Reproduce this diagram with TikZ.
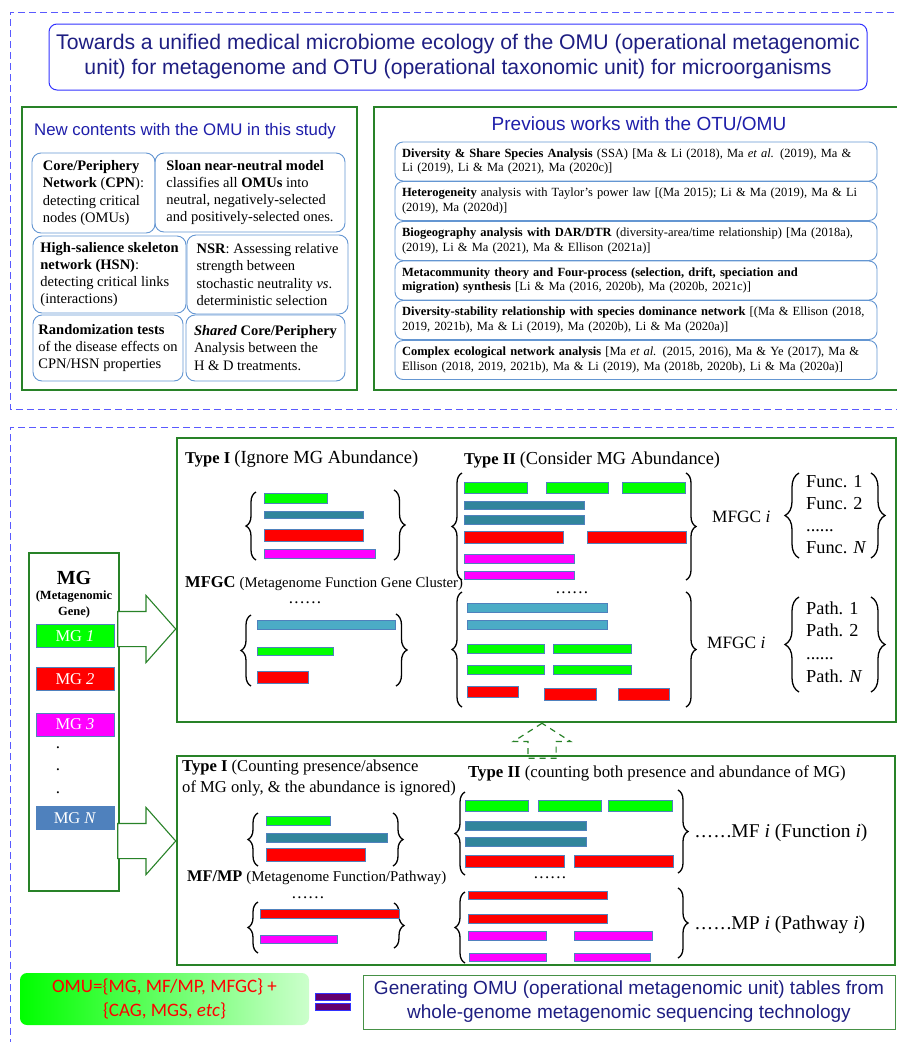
\documentclass[tikz,border=0pt]{standalone}
\usepackage{fontspec}
\setmainfont{Liberation Serif}
\setsansfont{Liberation Sans}
\newfontfamily\omufont{Carlito}
\usetikzlibrary{positioning,shapes.arrows,decorations.pathreplacing}

\definecolor{framegreen}{RGB}{40,130,40}
\definecolor{dashblue}{RGB}{90,90,255}
\definecolor{titlenavy}{RGB}{30,30,130}
\definecolor{headblue}{RGB}{30,30,170}
\definecolor{titleframe}{RGB}{50,50,255}
\definecolor{cellblue}{RGB}{100,150,210}
\definecolor{mggreen}{RGB}{0,255,0}
\definecolor{mgteal}{RGB}{49,133,156}
\definecolor{mgred}{RGB}{255,0,0}
\definecolor{mgpink}{RGB}{255,0,255}
\definecolor{mgcyan}{RGB}{75,172,198}
\definecolor{mgsteel}{RGB}{79,129,189}
\definecolor{barline}{RGB}{79,129,189}
\definecolor{eqpurple}{RGB}{100,0,110}
\definecolor{genframe}{RGB}{70,145,70}

\newcommand\fsz[2]{\fontsize{#1}{#2}\selectfont}
\newcommand\dotrow{.\kern1.4pt.\kern1.4pt.\kern1.4pt.\kern1.4pt.\kern1.4pt.}

\tikzset{
  dashline/.style={draw=dashblue,line width=1pt,dash pattern=on 7pt off 4pt},
  frame/.style={draw=framegreen,line width=1.1pt,inner sep=0pt},
  titlebox/.style={draw=titleframe,line width=1pt,rounded corners=8pt,align=center,
    minimum width=818pt,minimum height=66pt,text=titlenavy,font=\sffamily\fsz{21.2}{25}},
  cell/.style={draw=cellblue,line width=0.9pt,rounded corners=9pt,align=left,inner sep=0pt,
    font=\fsz{14.5}{17.3}},
  refcell/.style={draw=cellblue,line width=0.9pt,rounded corners=8pt,align=left,inner sep=0pt,
    text width=468pt,minimum width=482pt,minimum height=39pt,font=\fsz{12.5}{14.5}},
  bar/.style={draw=barline,line width=0.5pt},
  curly/.style={decorate,decoration={brace,amplitude=#1},line width=1.3pt},
  curly/.default=10pt,
  bigarrow/.style={single arrow,draw=framegreen,fill=white,line width=1.1pt,inner xsep=0pt,
    inner ysep=17pt,single arrow head extend=16pt,single arrow tip angle=97,minimum height=58pt},
  dasharrow/.style={single arrow,draw=framegreen,line width=1.2pt,dash pattern=on 6pt off 5pt,
    inner xsep=0pt,inner ysep=13.5pt,single arrow head extend=14.5pt,single arrow tip angle=115,
    minimum height=35pt},
  mgitem/.style={draw=barline,line width=0.5pt,minimum width=78pt,minimum height=23pt,
    inner sep=0pt,text=white,font=\fsz{16.5}{18}},
  lbl/.style={anchor=west,inner sep=0pt},
  dots/.style={inner sep=0pt,font=\fsz{17}{20}},
}

\begin{document}
\begin{tikzpicture}[x=1pt,y=-1pt]
\useasboundingbox (0,0) rectangle (897,1042);

\draw[dashline] (905,12) -| (10,409) -- (905,409);
\draw[dashline] (905,427) -| (10,1050);

\node[titlebox] (title) at (458,57)
  {Towards a unified medical microbiome ecology of the OMU (operational metagenomic\\
   unit) for metagenome and OTU (operational taxonomic unit) for microorganisms};

\node[frame,minimum width=335pt,minimum height=283pt] (newbox) at (189.5,248.5) {};
\node[text=headblue,font=\sffamily\fsz{16.8}{20}] (newhead) at (185,131)
  {New contents with the OMU in this study};
\node[cell,minimum width=123pt,minimum height=80pt] (cpn) at (93.5,193)
  {\textbf{Core/Periphery}\\\textbf{Network} (\textbf{CPN}):\\detecting critical\\nodes (OMUs)};
\node[cell,minimum width=190pt,minimum height=79pt] (sloan) at (250,192.5)
  {\textbf{Sloan near-neutral model}\\classifies all \textbf{OMUs} into\\neutral, negatively-selected\\and positively-selected ones.};
\node[cell,minimum width=153pt,minimum height=77pt] (hsn) at (109.5,274.5)
  {\textbf{High-salience skeleton}\\\textbf{network (HSN)}:\\detecting critical links\\(interactions)};
\node[cell,minimum width=161pt,minimum height=79pt] (nsr) at (267.5,274.5)
  {\textbf{NSR}: Assessing relative\\strength between\\stochastic neutrality \textit{vs}.\\deterministic selection};
\node[cell,minimum width=150pt,minimum height=66pt] (rand) at (108,348)
  {\textbf{Randomization tests}\\of the disease effects on\\CPN/HSN properties};
\node[cell,minimum width=159pt,minimum height=66pt] (shared) at (265.5,348)
  {\textbf{\textit{Shared} Core/Periphery}\\Analysis between the\\H \& D treatments.};

\node[frame,minimum width=526pt,minimum height=283pt] (prevbox) at (637,248.5) {};
\node[text=headblue,font=\sffamily\fsz{19}{22}] (prevhead) at (639,124)
  {Previous works with the OTU/OMU};
\node[refcell] (ssa) at (636,161.5)
  {\textbf{Diversity \& Share Species Analysis} (SSA) [Ma \& Li (2018), Ma \textit{et al.} (2019), Ma \&\\
   Li (2019), Li \& Ma (2021), Ma (2020c)]};
\node[refcell] (tpl) at (636,201)
  {\textbf{Heterogeneity} analysis with Taylor's power law [(Ma 2015); Li \& Ma (2019), Ma \& Li\\
   (2019), Ma (2020d)]};
\node[refcell] (dar) at (636,241)
  {\textbf{Biogeography analysis with DAR/DTR} (diversity-area/time relationship) [Ma (2018a),\\
   (2019), Li \& Ma (2021), Ma \& Ellison (2021a)]};
\node[refcell] (meta) at (636,280.5)
  {\textbf{Metacommunity theory and Four-process (selection, drift, speciation and}\\
   \textbf{migration) synthesis} [Li \& Ma (2016, 2020b), Ma (2020b, 2021c)]};
\node[refcell] (dsr) at (636,320)
  {\mbox{\textbf{Diversity-stability relationship with species dominance network} [(Ma \& Ellison (2018,}\\
   2019, 2021b), Ma \& Li (2019), Ma (2020b), Li \& Ma (2020a)]};
\node[refcell] (cen) at (636,360)
  {\textbf{Complex ecological network analysis} [Ma \textit{et al.} (2015, 2016), Ma \& Ye (2017), Ma \&\\
   Ellison (2018, 2019, 2021b), Ma \& Li (2019), Ma (2018b, 2020b), Li \& Ma (2020a)]};

\node[frame,minimum width=90pt,minimum height=338pt] (mgbox) at (74,722) {};
\node[font=\fsz{20}{22}\bfseries] (mghead) at (74,578) {MG};
\node[align=center,font=\fsz{12.5}{16}\bfseries] (mgsub) at (74,604) {(Metagenomic\\Gene)};
\node[mgitem,fill=mggreen] (mg1) at (75,636) {MG \textit{1}};
\node[mgitem,fill=mgred] (mg2) at (75,679) {MG \textit{2}};
\node[mgitem,fill=mgpink] (mg3) at (75,724.5) {MG \textit{3}};
\node[dots] (dot1) at (58,748) {.};
\node[dots] (dot2) at (58,770) {.};
\node[dots] (dot3) at (58,793) {.};
\node[mgitem,fill=mgsteel] (mgN) at (75,818) {MG \textit{N}};

\node[frame,minimum width=719pt,minimum height=284pt] (upbox) at (536.5,580) {};
\node[frame,minimum width=718pt,minimum height=209pt] (lowbox) at (536,860.5) {};
\node[bigarrow,anchor=tip] (arrUp) at (upbox.west |- 0,629) {};
\node[bigarrow,anchor=tip] (arrLow) at (lowbox.west |- 0,841) {};
\node[dasharrow,rotate=90,anchor=tip] (arrMid) at (upbox.south -| 542,0) {};

\node[lbl] (typeA) at (185,459)
  {\fsz{16.5}{20}\bfseries Type I \fsz{18.5}{22}\mdseries(Ignore MG Abundance)};
\draw[curly] (256,560) -- (256,492);
\draw[curly=11pt] (394,490) -- (394,560);
\draw[bar,fill=mggreen] (264,493) rectangle (327,503);
\draw[bar,fill=mgteal] (264,511) rectangle (363,518);
\draw[bar,fill=mgred] (264,529) rectangle (363,541);
\draw[bar,fill=mgpink] (264,549) rectangle (375,558);

\node[lbl] (mfgcHead) at (185,584)
  {\fsz{16.5}{20}\bfseries MFGC \fsz{14.7}{18}\mdseries(Metagenome Function Gene Cluster)};
\node[dots] (dotsA) at (305,603) {\dotrow};
\draw[curly] (251,686) -- (251,615);
\draw[curly=11pt] (396,614) -- (396,686);
\draw[bar,fill=mgcyan] (257,620) rectangle (395,629);
\draw[bar,fill=mggreen] (257,647) rectangle (333,655);
\draw[bar,fill=mgred] (257,671) rectangle (308,683);

\node[lbl] (typeB) at (464,460)
  {\fsz{16.5}{20}\bfseries Type II \fsz{18.3}{22}\mdseries(Consider MG Abundance)};
\draw[curly] (462,580) -- (462,473);
\draw[curly] (686,473) -- (686,580);
\draw[bar,fill=mggreen] (464,482) rectangle (527,493);
\draw[bar,fill=mggreen] (546,482) rectangle (608,493);
\draw[bar,fill=mggreen] (622,482) rectangle (685,493);
\draw[bar,fill=mgteal] (464,501) rectangle (584,509);
\draw[bar,fill=mgteal] (464,515) rectangle (584,524);
\draw[bar,fill=mgred] (464,531) rectangle (563,543);
\draw[bar,fill=mgred] (587,531) rectangle (686,543);
\draw[bar,fill=mgpink] (464,554) rectangle (574,563);
\draw[bar,fill=mgpink] (464,571) rectangle (574,579);
\node[lbl,font=\fsz{17.3}{20}] (mfgcA) at (712,517) {MFGC \textit{i}};
\draw[curly=14pt] (799,558) -- (799,473);
\node[lbl,align=left,font=\fsz{18.3}{22}] (funcs) at (806,515)
  {Func. 1\\Func. 2\\......\\Func. \textit{N}};
\draw[curly=14pt] (871,473) -- (871,558);

\node[dots] (dotsB) at (572,593) {\dotrow};
\draw[curly] (462,707) -- (462,592);
\draw[curly] (686,592) -- (686,707);
\draw[bar,fill=mgcyan] (467,603) rectangle (607,612);
\draw[bar,fill=mgcyan] (467,620) rectangle (607,629);
\draw[bar,fill=mggreen] (467,644) rectangle (544,653);
\draw[bar,fill=mggreen] (553,644) rectangle (631,653);
\draw[bar,fill=mggreen] (467,665) rectangle (544,674);
\draw[bar,fill=mggreen] (553,665) rectangle (631,674);
\draw[bar,fill=mgred] (467,686) rectangle (518,697);
\draw[bar,fill=mgred] (544,688) rectangle (596,700);
\draw[bar,fill=mgred] (618,688) rectangle (669,700);
\node[lbl,font=\fsz{17.3}{20}] (mfgcB) at (707,643) {MFGC \textit{i}};
\draw[curly=14pt] (799,692) -- (799,597);
\node[lbl,align=left,font=\fsz{18.3}{22.7}] (paths) at (806,642)
  {Path. 1\\Path. 2\\......\\Path. \textit{N}};
\draw[curly=14pt] (871,597) -- (871,692);

\node[lbl,align=left,font=\fsz{16.6}{21}] (typeC) at (182,778)
  {\textbf{Type I} (Counting presence/absence\\of MG only, \& the abundance is ignored)};
\draw[curly] (258,866) -- (258,813);
\draw[curly] (393,813) -- (393,866);
\draw[bar,fill=mggreen] (266,816) rectangle (330,825);
\draw[bar,fill=mgteal] (266,833) rectangle (387,842);
\draw[bar,fill=mgred] (266,848) rectangle (365,861);

\node[lbl] (mfmpHead) at (187,878)
  {\fsz{16.3}{20}\bfseries MF/MP \fsz{14.9}{18}\mdseries(Metagenome Function/Pathway)};
\node[dots] (dotsC) at (308,898) {\dotrow};
\draw[curly] (258,953) -- (258,902);
\draw[curly] (394,903) -- (394,948);
\draw[bar,fill=mgred] (260,909) rectangle (399,918);
\draw[bar,fill=mgpink] (260,935) rectangle (337,943);

\node[lbl,font=\fsz{16.8}{20}] (typeD) at (468,773)
  {\textbf{Type II} (counting both presence and abundance of MG)};
\draw[curly] (465,875) -- (465,792);
\draw[curly] (678,790) -- (678,873);
\draw[bar,fill=mggreen] (465,800) rectangle (528,811);
\draw[bar,fill=mggreen] (538,800) rectangle (601,811);
\draw[bar,fill=mggreen] (608,800) rectangle (672,811);
\draw[bar,fill=mgteal] (465,821) rectangle (586,830);
\draw[bar,fill=mgteal] (465,837) rectangle (586,846);
\draw[bar,fill=mgred] (465,855) rectangle (564,867);
\draw[bar,fill=mgred] (574,855) rectangle (673,867);
\node[lbl,font=\fsz{19.5}{22}] (mfi) at (695,833) {\dotrow MF \textit{i} (Function \textit{i})};

\node[dots] (dotsD) at (550,878) {\dotrow};
\draw[curly] (465,963) -- (465,892);
\draw[curly] (678,888) -- (678,958);
\draw[bar,fill=mgred] (468,891) rectangle (607,899);
\draw[bar,fill=mgred] (468,914) rectangle (607,923);
\draw[bar,fill=mgpink] (468,931) rectangle (546,940);
\draw[bar,fill=mgpink] (574,931) rectangle (652,940);
\draw[bar,fill=mgpink] (469,953) rectangle (546,961);
\draw[bar,fill=mgpink] (574,953) rectangle (650,961);
\node[lbl,font=\fsz{19.5}{22}] (mpi) at (695,925) {\dotrow MP \textit{i} (Pathway \textit{i})};

\node[rounded corners=7pt,left color=mggreen,middle color=mggreen!92!white,right color=white!80!mggreen,
  minimum width=289pt,minimum height=52pt,align=center,text=mgred,font=\omufont\fsz{19}{24}]
  (omu) at (164.5,999) {OMU=\{MG, MF/MP, MFGC\} +\\\{CAG, MGS, \textit{etc}\}};
\draw[draw=titleframe,fill=eqpurple,line width=0.8pt] (315,993) rectangle (350,1000);
\draw[draw=titleframe,fill=eqpurple,line width=0.8pt] (315,1003) rectangle (350,1010);
\node[draw=genframe,line width=0.8pt,minimum width=532pt,minimum height=54pt,align=center,
  text=titlenavy,font=\sffamily\fsz{19}{24}] (gen) at (629,1002)
  {Generating OMU (operational metagenomic unit) tables from\\
   whole-genome metagenomic sequencing technology};
\end{tikzpicture}
\end{document}
